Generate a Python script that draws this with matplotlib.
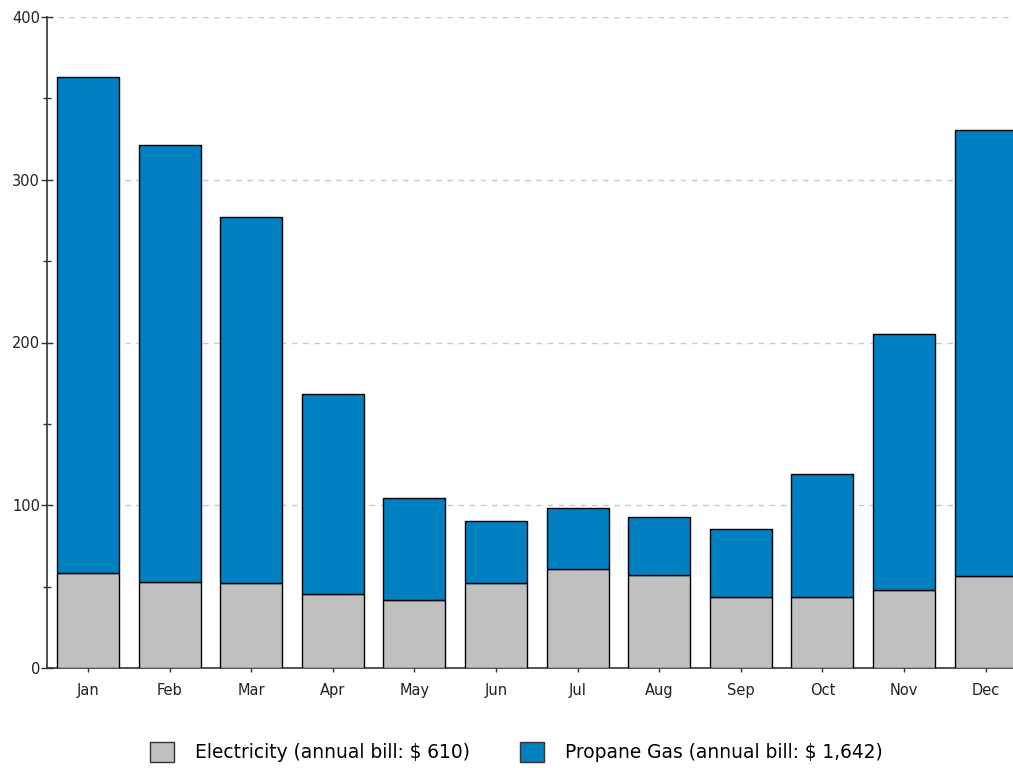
import matplotlib
matplotlib.use("Agg")
import matplotlib.pyplot as plt
from matplotlib.patches import Patch
from matplotlib.ticker import MultipleLocator

# monthly energy bills ($)
months = ["Jan", "Feb", "Mar", "Apr", "May", "Jun",
          "Jul", "Aug", "Sep", "Oct", "Nov", "Dec"]
electricity = [58.4, 52.8, 52.2, 45.5, 41.8, 52.2,
               60.8, 57.1, 43.6, 43.6, 47.9, 56.5]
propane = [304.7, 268.6, 224.9, 122.9, 62.7, 38.1,
           37.5, 35.7, 41.8, 75.6, 157.3, 274.1]
series_labels = ["Electricity (annual bill: $ 610)",
                 "Propane Gas (annual bill: $ 1,642)"]

GRAY = "#c0c0c0"
BLUE = "#0080c0"

fig = plt.figure(figsize=(10.13, 7.68), dpi=100)
ax = fig.add_axes([47 / 1013, 1 - 668 / 768, 1 - 47 / 1013, (668 - 17) / 768])

x = range(len(months))
ax.bar(x, electricity, width=0.76, color=GRAY, edgecolor="black",
       linewidth=1, zorder=3)
ax.bar(x, propane, width=0.76, bottom=electricity, color=BLUE,
       edgecolor="black", linewidth=1, zorder=3)

ax.set_xlim(-0.502, 11.335)
ax.set_ylim(0, 400)
ax.set_xticks(list(x))
ax.set_xticklabels(months)
ax.yaxis.set_major_locator(MultipleLocator(100))
ax.yaxis.set_minor_locator(MultipleLocator(50))

ax.grid(axis="y", which="major", color="#c8c8c8", linestyle=(0, (4, 4)),
        linewidth=1, zorder=0)
ax.spines["top"].set_visible(False)
ax.spines["right"].set_visible(False)
for s in ("left", "bottom"):
    ax.spines[s].set_color("#333333")
    ax.spines[s].set_linewidth(1.2)

ax.tick_params(axis="y", which="major", length=8, width=1, direction="inout",
               pad=1, labelsize=10.5, colors="#333333", labelcolor="#222222")
ax.tick_params(axis="y", which="minor", length=6, width=1, direction="inout",
               colors="#333333")
ax.tick_params(axis="x", which="major", length=3, width=1, direction="out",
               labelsize=10.5, pad=8, colors="#333333", labelcolor="#222222")

handles = [Patch(facecolor=GRAY, edgecolor="#333333", linewidth=1),
           Patch(facecolor=BLUE, edgecolor="#333333", linewidth=1)]
fig.legend(handles, series_labels, loc="center", ncol=2,
           bbox_to_anchor=(0.51, 1 - 752 / 768), frameon=False,
           fontsize=13.4, handlelength=1.25, handleheight=1.25,
           handletextpad=1.15, columnspacing=2.7)

fig.savefig("out.png", dpi=100)
